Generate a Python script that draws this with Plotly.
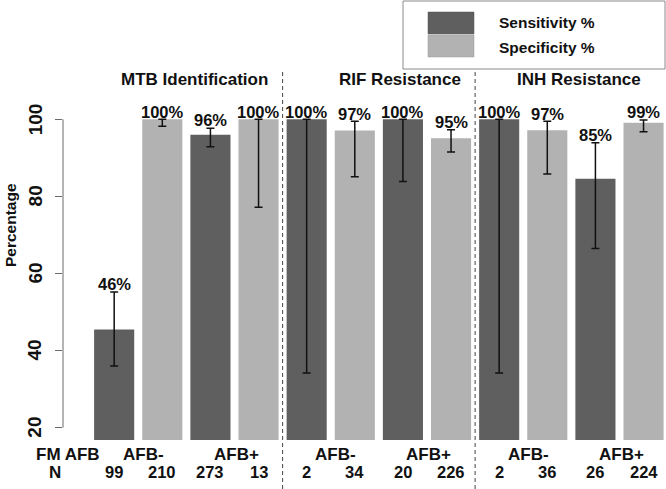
import plotly.graph_objects as go

# ---------------- data ----------------
groups = ["MTB Identification", "RIF Resistance", "INH Resistance"]
afb_labels = ["AFB-", "AFB+"]
series_names = ["Sensitivity %", "Specificity %"]
n_labels = ["99", "210", "273", "13", "2", "34", "20", "226", "2", "36", "26", "224"]
values = [45.5, 100, 96.0, 100, 100, 97.1, 100, 95.1, 100, 97.2, 84.6, 99.1]
ci_low = [36.0, 98.2, 92.9, 77.2, 34.2, 85.1, 83.9, 91.5, 34.2, 85.8, 66.5, 96.8]
ci_high = [55.2, 100, 97.7, 100, 100, 99.5, 100, 97.3, 100, 99.5, 93.9, 99.8]
value_labels = ["46%", "100%", "96%", "100%", "100%", "97%", "100%", "95%",
                "100%", "97%", "85%", "99%"]
y_ticks = [20, 40, 60, 80, 100]

# ---------------- style / layout ----------------
W, H = 666, 489
ML, MR, MT, MB = 63, 0, 107, 49
PW, PH = W - ML - MR, H - MT - MB
DARK, LIGHT = "#5f5f5f", "#b2b2b2"
FONT = "Liberation Sans, Arial, sans-serif"
XR = [-0.576, 14.46]
YR = [16.8, 103.2]


def px_x(px):
    return (px - ML) / PW


def px_y(py):
    return (H - MB - py) / PH


n = len(values)
centers = [0.7 + 1.2 * i for i in range(n)]

fig = go.Figure()
for s in range(2):
    idx = [i for i in range(n) if i % 2 == s]
    fig.add_trace(go.Bar(
        x=[centers[i] for i in idx],
        y=[values[i] for i in idx],
        width=1.0,
        marker=dict(color=DARK if s == 0 else LIGHT, line=dict(width=0)),
        name=series_names[s],
        showlegend=False,
        error_y=dict(type="data", symmetric=False,
                     array=[ci_high[i] - values[i] for i in idx],
                     arrayminus=[values[i] - ci_low[i] for i in idx],
                     color="#111111", thickness=1.5, width=4),
    ))

ann = []
# value labels
for i in range(n):
    ann.append(dict(x=centers[i], y=ci_high[i] + 2, xref="x", yref="y",
                    text="<b>%s</b>" % value_labels[i], showarrow=False,
                    font=dict(size=16.5, color="#111111", family=FONT),
                    xanchor="center", yanchor="middle"))

# y tick labels (rotated)
for t in y_ticks:
    ann.append(dict(x=px_x(35), y=t, xref="paper", yref="y",
                    text="<b>%d</b>" % t, showarrow=False, textangle=-90,
                    font=dict(size=19, color="#111111", family=FONT),
                    xanchor="center", yanchor="middle"))
ann.append(dict(x=px_x(10), y=px_y(225), xref="paper", yref="paper",
                text="<b>Percentage</b>", showarrow=False, textangle=-90,
                font=dict(size=15.5, color="#111111", family=FONT),
                xanchor="center", yanchor="middle"))

# group titles
title_x = [2.71, 7.82, 12.30]
for g, gx in zip(groups, title_x):
    ann.append(dict(x=gx, y=px_y(80), xref="x", yref="paper",
                    text="<b>%s</b>" % g, showarrow=False,
                    font=dict(size=17, color="#111111", family=FONT),
                    xanchor="center", yanchor="middle"))

# bottom labels
ann.append(dict(x=px_x(68), y=px_y(454), xref="paper", yref="paper",
                text="<b>FM AFB</b>", showarrow=False,
                font=dict(size=17, color="#111111", family=FONT),
                xanchor="center", yanchor="middle"))
ann.append(dict(x=px_x(55), y=px_y(472), xref="paper", yref="paper",
                text="<b>N</b>", showarrow=False,
                font=dict(size=17, color="#111111", family=FONT),
                xanchor="center", yanchor="middle"))
for k in range(6):
    a, b = 2 * k, 2 * k + 1
    off = 0.12 if k % 2 == 0 else 0.04
    ann.append(dict(x=(centers[a] + centers[b]) / 2 + off, y=px_y(454),
                    xref="x", yref="paper",
                    text="<b>%s</b>" % afb_labels[k % 2], showarrow=False,
                    font=dict(size=17, color="#111111", family=FONT),
                    xanchor="center", yanchor="middle"))
for i in range(n):
    ann.append(dict(x=centers[i], y=px_y(472), xref="x", yref="paper",
                    text="<b>%s</b>" % n_labels[i], showarrow=False,
                    font=dict(size=16.5, color="#111111", family=FONT),
                    xanchor="center", yanchor="middle"))

# legend text
for j, nm in enumerate(series_names):
    ann.append(dict(x=px_x(497), y=px_y(23 + 24 * j), xref="paper", yref="paper",
                    text="<b>%s</b>" % nm, showarrow=False,
                    font=dict(size=15.5, color="#111111", family=FONT),
                    xanchor="left", yanchor="middle"))

shapes = []
# y axis line
shapes.append(dict(type="line", xref="paper", yref="y", x0=0, x1=0,
                   y0=y_ticks[0], y1=y_ticks[-1],
                   line=dict(color="#6a6a6a", width=1)))
# dashed separators
for sx in [4.9, 9.7]:
    shapes.append(dict(type="line", xref="x", yref="paper", x0=sx, x1=sx,
                       y0=px_y(489), y1=px_y(70),
                       line=dict(color="#444444", width=1, dash="4px,3px")))
# legend box and swatches
shapes.append(dict(type="rect", xref="paper", yref="paper",
                   x0=px_x(403), x1=px_x(665), y0=px_y(69), y1=px_y(1),
                   line=dict(color="#8a8a8a", width=1), fillcolor="white"))
shapes.append(dict(type="rect", xref="paper", yref="paper",
                   x0=px_x(428), x1=px_x(474), y0=px_y(34), y1=px_y(12),
                   line=dict(color="#555555", width=0.5), fillcolor=DARK))
shapes.append(dict(type="rect", xref="paper", yref="paper",
                   x0=px_x(428), x1=px_x(474), y0=px_y(57), y1=px_y(35),
                   line=dict(color="#999999", width=0.5), fillcolor=LIGHT))

fig.update_layout(
    width=W, height=H,
    margin=dict(l=ML, r=MR, t=MT, b=MB),
    paper_bgcolor="white", plot_bgcolor="white",
    barmode="overlay",
    showlegend=False,
    font=dict(family=FONT, color="#111111"),
    xaxis=dict(range=XR, showticklabels=False, ticks="", showgrid=False,
               zeroline=False, showline=False, fixedrange=True),
    yaxis=dict(range=YR, tickvals=y_ticks, showticklabels=False,
               ticks="outside", ticklen=7, tickcolor="#6a6a6a", tickwidth=1,
               showgrid=False, zeroline=False, showline=False, fixedrange=True),
    annotations=ann,
    shapes=shapes,
)

fig.write_html(
    "out.html",
    config={"displayModeBar": False},
    post_script="document.body.style.margin='0';"
                "document.body.style.overflow='hidden';",
)
